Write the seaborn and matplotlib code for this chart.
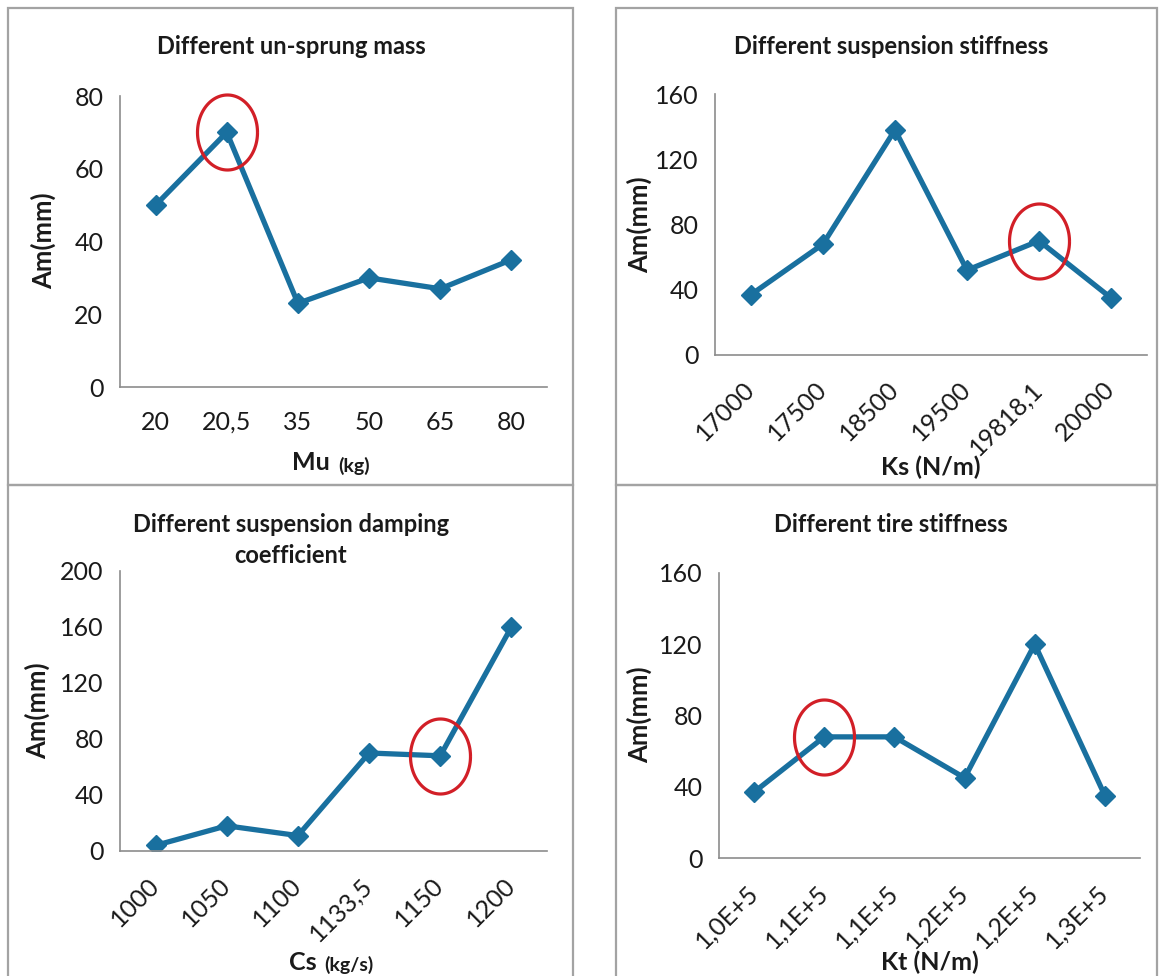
import numpy as np
import matplotlib
matplotlib.use("Agg")
import matplotlib.pyplot as plt
import seaborn as sns
from matplotlib.path import Path
from matplotlib.patches import Rectangle

# ---------------- data ----------------
mu_labels = ["20", "20,5", "35", "50", "65", "80"]
mu_values = [50, 70, 23, 30, 27, 35]

ks_labels = ["17000", "17500", "18500", "19500", "19818,1", "20000"]
ks_values = [37, 68, 138, 52, 70, 35]

cs_labels = ["1000", "1050", "1100", "1133,5", "1150", "1200"]
cs_values = [4, 18, 11, 70, 68, 160]

kt_labels = ["1,0E+5", "1,1E+5", "1,1E+5", "1,2E+5", "1,2E+5", "1,3E+5"]
kt_values = [37, 68, 68, 45, 120, 35]

titles = ["Different un-sprung mass", "Different suspension stiffness",
          "Different suspension damping\ncoefficient", "Different tire stiffness"]
y_ticks = [[0, 20, 40, 60, 80], [0, 40, 80, 120, 160],
           [0, 40, 80, 120, 160, 200], [0, 40, 80, 120, 160]]
highlight = [1, 4, 4, 1]

# ---------------- style ----------------
sns.set_style("white")
FONT = ["Lato", "DejaVu Sans"]
plt.rcParams["font.family"] = FONT

W, H = 1161, 976
fig = plt.figure(figsize=(W / 100, H / 100), dpi=100)
fig.patch.set_facecolor("white")


def fx(x):
    return x / W


def fy(y):
    return 1 - y / H


LINE = "#19709f"
RED = "#d21f27"
GRID = "#8c8c8c"
TXT = "#1a1a1a"

# panel boxes (pixels: x0, y0, x1, y1)
boxes = [(8, 8, 573, 485), (616, 8, 1157, 485), (8, 485, 573, 995), (616, 485, 1157, 995)]
for (x0, y0, x1, y1) in boxes:
    fig.add_artist(Rectangle((fx(x0), fy(y1)), fx(x1 - x0), (y1 - y0) / H,
                             transform=fig.transFigure, fill=False,
                             ec="#a3a3a3", lw=1.6, clip_on=False))

# axes rectangles (pixels: left, right, top, bottom)
axes_px = [(120, 547, 96, 387), (715, 1147, 94, 355), (120, 547, 571, 851), (719, 1140, 573, 858)]
labels_all = [mu_labels, ks_labels, cs_labels, kt_labels]
values_all = [mu_values, ks_values, cs_values, kt_values]
rotated = [False, True, True, True]

theta = np.linspace(0, 2 * np.pi, 120)
ellipse = Path(np.column_stack([0.4 * np.cos(theta), 0.5 * np.sin(theta)]))

axs = []
for i in range(4):
    l, r, t, b = axes_px[i]
    ax = fig.add_axes([fx(l), fy(b), fx(r - l), (b - t) / H])
    axs.append(ax)
    pos = np.arange(len(values_all[i]))
    sns.lineplot(x=pos, y=values_all[i], ax=ax, color=LINE, linewidth=3.8,
                 marker="D", markersize=10, markeredgecolor=LINE, markeredgewidth=1)
    h = highlight[i]
    ax.plot([pos[h]], [values_all[i][h]], marker=ellipse, markersize=54,
            markerfacecolor="none", markeredgecolor=RED, markeredgewidth=2.3,
            linestyle="none", clip_on=False, zorder=5)

    ax.set_xlim(-0.5, len(pos) - 0.5)
    ax.set_ylim(y_ticks[i][0], y_ticks[i][-1])
    ax.set_yticks(y_ticks[i])
    ax.set_yticklabels([str(v) for v in y_ticks[i]])
    ax.set_xticks(pos)
    if rotated[i]:
        ax.set_xticklabels(labels_all[i], rotation=45, ha="right", va="center",
                           rotation_mode="anchor")
        ax.tick_params(axis="x", which="major", length=0, pad=22)
    else:
        ax.set_xticklabels(labels_all[i])
        ax.tick_params(axis="x", which="major", length=0, pad=17)
    ax.set_xticks(np.arange(-0.5, len(pos)), minor=True)
    ax.tick_params(axis="x", which="minor", length=6, width=1.2, color=GRID, direction="out")
    ax.tick_params(axis="y", which="major", length=6, width=1.2, color=GRID,
                   direction="out", pad=6)
    ax.tick_params(axis="both", labelsize=18, labelcolor=TXT)
    for s in ["top", "right"]:
        ax.spines[s].set_visible(False)
    for s in ["left", "bottom"]:
        ax.spines[s].set_color(GRID)
        ax.spines[s].set_linewidth(1.2)
    ax.set_xlabel("")
    ax.set_ylabel("")
    ax.set_facecolor("none")

# titles
title_pos = [(291, 47), (891, 47), (291, 540), (891, 524)]
for i, (x, y) in enumerate(title_pos):
    fig.text(fx(x), fy(y), titles[i], ha="center", va="center", fontsize=17,
             fontweight="bold", color=TXT, linespacing=1.45)

# y labels
ylab_pos = [(43, 241), (639, 225), (37, 711), (639, 715)]
for (x, y) in ylab_pos:
    fig.text(fx(x), fy(y), "Am(mm)", rotation=90, ha="center", va="center",
             fontsize=18.5, fontweight="bold", color=TXT)

# x labels
fig.text(fx(330), fy(463), "Mu", ha="right", va="center", fontsize=18, fontweight="bold", color=TXT)
fig.text(fx(338), fy(466), "(kg)", ha="left", va="center", fontsize=14, fontweight="bold", color=TXT)
fig.text(fx(931), fy(467), "Ks (N/m)", ha="center", va="center", fontsize=18, fontweight="bold", color=TXT)
fig.text(fx(317), fy(962), "Cs", ha="right", va="center", fontsize=18, fontweight="bold", color=TXT)
fig.text(fx(324), fy(965), "(kg/s)", ha="left", va="center", fontsize=14, fontweight="bold", color=TXT)
fig.text(fx(930), fy(962), "Kt (N/m)", ha="center", va="center", fontsize=18, fontweight="bold", color=TXT)

fig.savefig("out.png", dpi=100, facecolor="white")
